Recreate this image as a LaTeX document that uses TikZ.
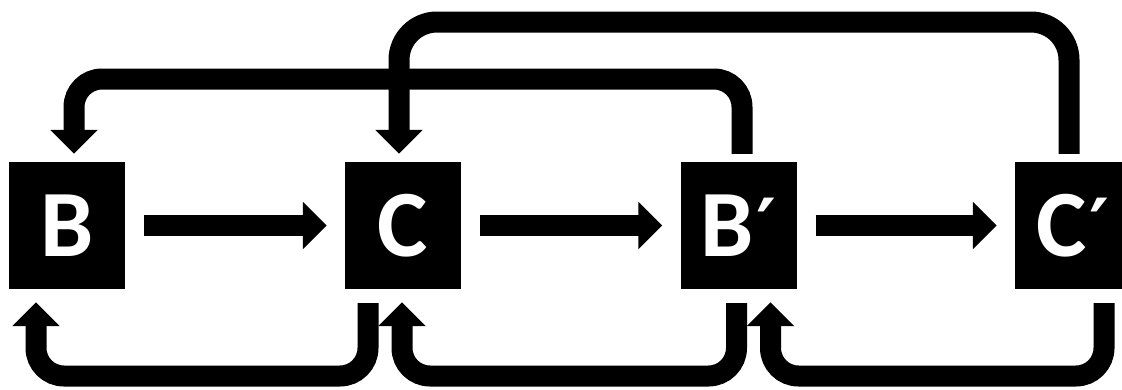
\documentclass[tikz,border=0pt]{standalone}
\usepackage{fontspec}
\newfontfamily\boxfont{Carlito}
\newfontfamily\primefont{DejaVu Sans}
\usetikzlibrary{arrows.meta}

\newcommand{\pr}{\kern3pt\raisebox{3pt}{\primefont\fontsize{76}{76}\selectfont ′}}

\tikzset{
    box/.style={fill=black, text=white, inner sep=0pt,
        minimum width=116pt, minimum height=127pt,
        font=\boxfont\bfseries\fontsize{95}{95}\selectfont},
    flow/.style={line width=21pt, -{Triangle[width=46pt,length=24pt]}},
    upflow/.style={flow, rounded corners=28pt, shorten <=8pt, shorten >=8pt},
    downflow/.style={flow, rounded corners=28pt, shorten <=14pt, shorten >=13pt},
}

\begin{document}
\begin{tikzpicture}[x=1pt,y=-1pt]
    \useasboundingbox (0,0) rectangle (1122,389);
    % the four states
    \node[box] (B)  at (67,225.5)    {B};
    \node[box] (C)  at (403,225.5)   {C};
    \node[box] (Bp) at (738.5,225.5) {B\pr};
    \node[box] (Cp) at (1073,225.5)  {C\pr};
    % levels of the feedback lines
    \coordinate (lowtop) at (0,79);
    \coordinate (hightop) at (0,22);
    \coordinate (bottom) at (0,376);
    % forward arrows
    \draw[flow, shorten <=19pt, shorten >=18pt] (B) -- (C);
    \draw[flow, shorten <=19pt, shorten >=18pt] (C) -- (Bp);
    \draw[flow, shorten <=19pt, shorten >=18pt] (Bp) -- (Cp);
    % feedback over the top
    \draw[upflow] ([xshift=3.5pt]Bp.north) -- ([xshift=3.5pt]Bp.north |- lowtop) -| ([xshift=7pt]B.north);
    \draw[upflow, rounded corners=38pt] ([xshift=-4pt]Cp.north) -- ([xshift=-4pt]Cp.north |- hightop) -| ([xshift=-4pt]C.north);
    % feedback underneath
    \draw[downflow] ([xshift=-35pt]C.south) -- ([xshift=-35pt]C.south |- bottom) -| ([xshift=-31pt]B.south);
    \draw[downflow] ([xshift=-2pt]Bp.south) -- ([xshift=-2pt]Bp.south |- bottom) -| ([xshift=-1pt]C.south);
    \draw[downflow] ([xshift=31pt]Cp.south) -- ([xshift=31pt]Cp.south |- bottom) -| ([xshift=32pt]Bp.south);
\end{tikzpicture}
\end{document}
